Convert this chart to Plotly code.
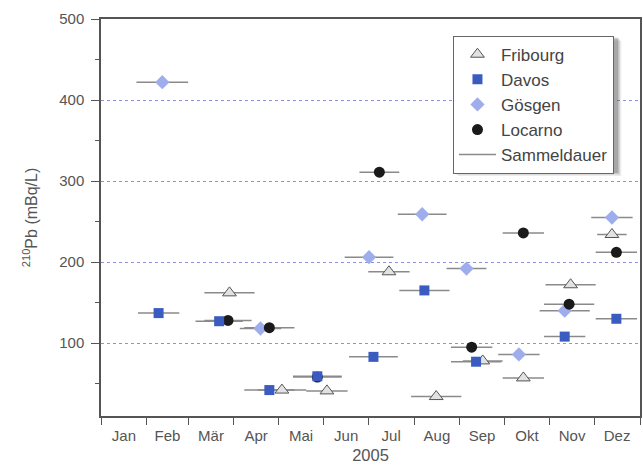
import pandas as pd
import plotly.graph_objects as go

# ---- data (collection periods and 210Pb activity, mBq/L) ----
fribourg_start = ["2005-03-12", "2005-04-17", "2005-05-20", "2005-07-01", "2005-07-30",
                  "2005-09-03", "2005-09-30", "2005-10-29", "2005-12-03"]
fribourg_end = ["2005-04-15", "2005-05-20", "2005-06-17", "2005-07-29", "2005-09-02",
                "2005-09-30", "2005-10-28", "2005-12-02", "2005-12-23"]
fribourg_val = [162, 42, 41, 188, 34, 78, 57, 172, 234]

davos_start = ["2005-01-26", "2005-03-06", "2005-04-08", "2005-05-11", "2005-06-18",
               "2005-07-22", "2005-08-26", "2005-10-28", "2005-12-02"]
davos_end = ["2005-02-23", "2005-04-07", "2005-05-12", "2005-06-13", "2005-07-21",
             "2005-08-25", "2005-09-29", "2005-11-25", "2005-12-30"]
davos_val = [137, 127, 42, 59, 83, 165, 77, 108, 130]

goesgen_start = ["2005-01-25", "2005-04-05", "2005-06-15", "2005-07-21", "2005-08-23",
                 "2005-09-27", "2005-10-25", "2005-11-29"]
goesgen_end = ["2005-03-01", "2005-05-03", "2005-07-18", "2005-08-23", "2005-09-19",
               "2005-10-25", "2005-11-28", "2005-12-27"]
goesgen_val = [422, 118, 206, 259, 192, 86, 140, 255]

locarno_start = ["2005-03-12", "2005-04-08", "2005-05-11", "2005-06-25", "2005-08-26",
                 "2005-09-30", "2005-10-28", "2005-12-02"]
locarno_end = ["2005-04-13", "2005-05-12", "2005-06-13", "2005-07-22", "2005-09-23",
               "2005-10-28", "2005-12-01", "2005-12-30"]
locarno_val = [128, 119, 58, 311, 95, 236, 148, 212]

month_labels = ["Jan", "Feb", "Mär", "Apr", "Mai", "Jun", "Jul", "Aug", "Sep", "Okt", "Nov", "Dez"]
y_ticks = [100, 200, 300, 400, 500]

# ---- helpers ----
def mids(starts, ends):
    s = pd.to_datetime(starts)
    e = pd.to_datetime(ends)
    return list(s + (e - s) / 2)

def seg_xy(starts, ends, vals):
    xs, ys = [], []
    for s, e, v in zip(pd.to_datetime(starts), pd.to_datetime(ends), vals):
        xs += [s, e, None]
        ys += [v, v, None]
    return xs, ys

month_starts = pd.date_range("2005-01-01", "2006-01-01", freq="MS")
month_mids = list(month_starts[:-1] + (month_starts[1:] - month_starts[:-1]) / 2)

fig = go.Figure()

# collection-period segments
sx, sy = [], []
for st, en, va in [(fribourg_start, fribourg_end, fribourg_val),
                   (davos_start, davos_end, davos_val),
                   (goesgen_start, goesgen_end, goesgen_val),
                   (locarno_start, locarno_end, locarno_val)]:
    x, y = seg_xy(st, en, va)
    sx += x
    sy += y
fig.add_trace(go.Scatter(x=sx, y=sy, mode="lines", name="Sammeldauer",
                         line=dict(color="#8a8a8a", width=1.5), legendrank=5,
                         connectgaps=False))

fig.add_trace(go.Scatter(x=mids(fribourg_start, fribourg_end), y=fribourg_val, mode="markers",
                         name="Fribourg", legendrank=1,
                         marker=dict(symbol="triangle-up", size=12, color="#e2e2e2",
                                     line=dict(color="#555555", width=1))))
fig.add_trace(go.Scatter(x=mids(goesgen_start, goesgen_end), y=goesgen_val, mode="markers",
                         name="Gösgen", legendrank=3,
                         marker=dict(symbol="diamond", size=11, color="#9eaeec",
                                     line=dict(width=0))))
fig.add_trace(go.Scatter(x=mids(locarno_start, locarno_end), y=locarno_val, mode="markers",
                         name="Locarno", legendrank=4,
                         marker=dict(symbol="circle", size=11, color="#1a1a1a",
                                     line=dict(width=0))))
fig.add_trace(go.Scatter(x=mids(davos_start, davos_end), y=davos_val, mode="markers",
                         name="Davos", legendrank=2,
                         marker=dict(symbol="square", size=10, color="#3a5cc0",
                                     line=dict(width=0))))

axis_font = dict(family="Liberation Sans, Arial, sans-serif", size=15, color="#555555")

LEG_X0, LEG_Y1 = 0.653, 0.958
LEG_X1, LEG_Y0 = 0.956, 0.617   # approximate drawn extent of the legend box (for the shadow)

fig.update_layout(
    width=643, height=469,
    margin=dict(l=101, r=3, t=19, b=53),
    plot_bgcolor="white", paper_bgcolor="white",
    font=axis_font,
    showlegend=True,
    legend=dict(x=LEG_X0, y=LEG_Y1, xanchor="left", yanchor="top",
                bgcolor="white", bordercolor="#666666", borderwidth=1,
                itemwidth=37,
                font=dict(family="Liberation Sans, Arial, sans-serif", size=17, color="#444444"),
                tracegroupgap=0),
    xaxis=dict(
        range=["2005-01-01", "2006-01-01"], automargin=False,
        tickmode="array", tickvals=month_mids, ticktext=month_labels,
        ticks="", ticklabelstandoff=5, showgrid=False, zeroline=False,
        showline=True, mirror=True, linecolor="#555555", linewidth=1.5,
        minor=dict(tickmode="array", tickvals=list(month_starts), ticks="outside",
                   ticklen=7, tickwidth=1.2, tickcolor="#555555", showgrid=False),
        title=dict(text="2005", font=dict(size=16.5, color="#555555"), standoff=7),
    ),
    yaxis=dict(
        range=[10, 500], automargin=False,
        tickmode="array", tickvals=y_ticks,
        ticks="outside", ticklen=8, tickwidth=1.2, tickcolor="#555555",
        ticklabelstandoff=4,
        showgrid=True, gridcolor="#8e92dc", griddash="dot", gridwidth=1,
        zeroline=False,
        showline=True, mirror=True, linecolor="#555555", linewidth=1.5,
        minor=dict(dtick=50, tick0=0, ticks="outside", ticklen=4, tickwidth=1.2,
                   tickcolor="#555555", showgrid=False),
        title=dict(text="<sup>210</sup>Pb (mBq/L)", font=dict(size=16, color="#555555"),
                   standoff=18),
    ),
)

# soft shadow behind the legend box
for off, op in [(5, 0.10), (3.5, 0.18), (2, 0.28)]:
    fig.add_shape(type="rect", xref="paper", yref="paper",
                  x0=LEG_X0 + off / 539, x1=LEG_X1 + off / 539,
                  y0=LEG_Y0 - off / 397, y1=LEG_Y1 - off / 397,
                  fillcolor="#444444", opacity=op, line=dict(width=0), layer="above")

fig.write_html("out.html", config={"displayModeBar": False},
               post_script="document.body.style.margin='0';document.body.style.overflow='hidden';")
